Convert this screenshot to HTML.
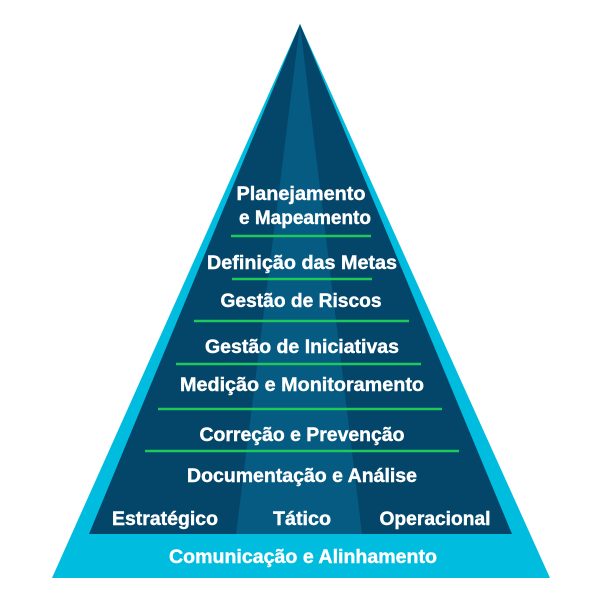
<!DOCTYPE html>
<html><head><meta charset="utf-8"><style>
html,body{margin:0;padding:0;background:#fff;}
svg{display:block}
text{font-family:"Liberation Sans",sans-serif;font-weight:bold;fill:#fff;stroke:#fff;stroke-width:0.4;font-size:19px;text-anchor:middle;}
</style></head><body>
<svg width="600" height="600" viewBox="0 0 600 600">
<polygon points="300,24 550,578 52,578" fill="#00bcdf"/>
<polygon points="300,24 512,534 89,534" fill="#03466a"/>
<polygon points="300,24 362,534 236,534" fill="#055b82"/>
<g stroke="#1fc85a" stroke-width="2.5">
<line x1="231" y1="236" x2="371" y2="236"/>
<line x1="232" y1="279" x2="372" y2="279"/>
<line x1="194" y1="321" x2="409" y2="321"/>
<line x1="176" y1="364" x2="421" y2="364"/>
<line x1="158" y1="409" x2="442" y2="409"/>
<line x1="145" y1="451" x2="459" y2="451"/>
</g>
<text x="301" y="200" textLength="129" lengthAdjust="spacingAndGlyphs">Planejamento</text>
<text x="305" y="224" textLength="132" lengthAdjust="spacingAndGlyphs">e Mapeamento</text>
<text x="302" y="269" textLength="190" lengthAdjust="spacingAndGlyphs">Definição das Metas</text>
<text x="301" y="307" textLength="161" lengthAdjust="spacingAndGlyphs">Gestão de Riscos</text>
<text x="302" y="353" textLength="194" lengthAdjust="spacingAndGlyphs">Gestão de Iniciativas</text>
<text x="302" y="391" textLength="244" lengthAdjust="spacingAndGlyphs">Medição e Monitoramento</text>
<text x="302" y="441" textLength="205" lengthAdjust="spacingAndGlyphs">Correção e Prevenção</text>
<text x="302" y="482" textLength="230" lengthAdjust="spacingAndGlyphs">Documentação e Análise</text>
<text x="165" y="525" textLength="106" lengthAdjust="spacingAndGlyphs">Estratégico</text>
<text x="302" y="525" textLength="58" lengthAdjust="spacingAndGlyphs">Tático</text>
<text x="435" y="525" textLength="111" lengthAdjust="spacingAndGlyphs">Operacional</text>
<text x="303" y="563" textLength="268" lengthAdjust="spacingAndGlyphs">Comunicação e Alinhamento</text>
</svg>
</body></html>
